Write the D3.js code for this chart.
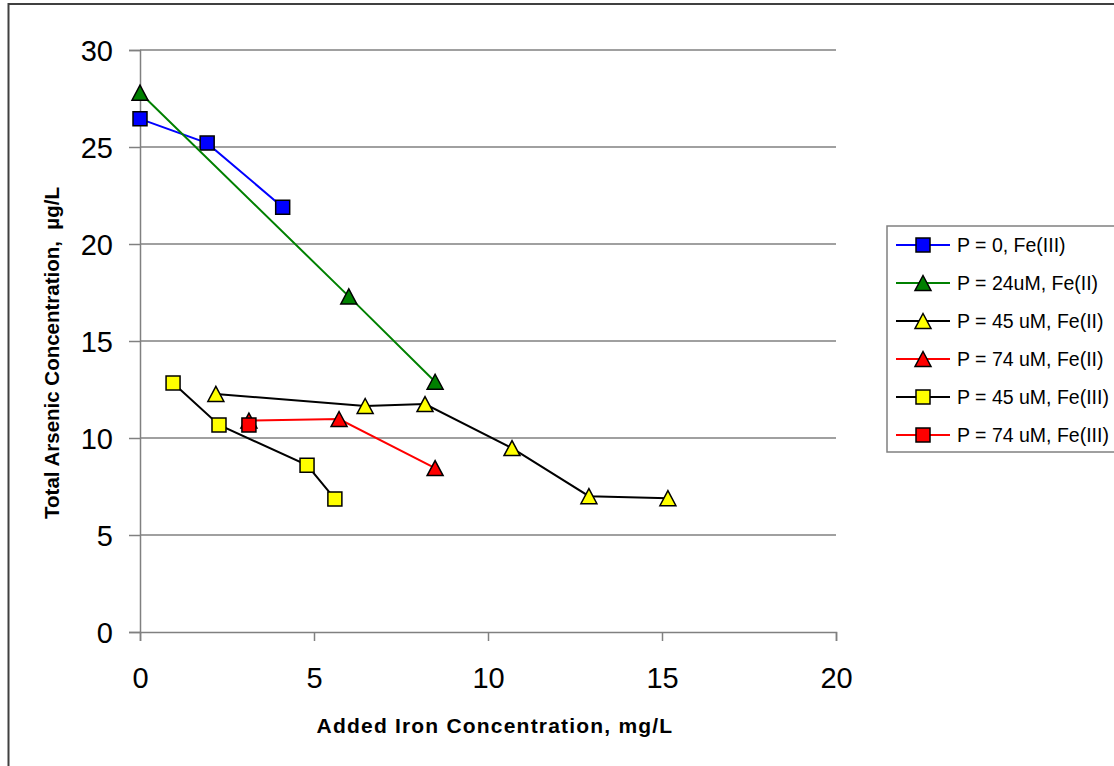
<!DOCTYPE html>
<html>
<head>
<meta charset="utf-8">
<script src="https://cdn.jsdelivr.net/npm/d3@7"></script>
<style>
  html, body { margin: 0; padding: 0; background: #fff; }
  svg { display: block; }
  text { font-family: Arial, "Liberation Sans", sans-serif; fill: #000; }
</style>
</head>
<body>
<svg id="chart" width="1114" height="766"></svg>
<script>
// ---------- data ----------
const seriesNames = [
  "P = 0, Fe(III)",
  "P = 24uM, Fe(II)",
  "P = 45 uM, Fe(II)",
  "P = 74 uM, Fe(II)",
  "P = 45 uM, Fe(III)",
  "P = 74 uM, Fe(III)"
];
const p0FeIII_x  = [0, 1.93, 4.1];
const p0FeIII_y  = [26.45, 25.2, 21.9];
const p24FeII_x  = [0, 6.0, 8.48];
const p24FeII_y  = [27.8, 17.3, 12.9];
const p45FeII_x  = [2.18, 6.47, 8.19, 10.69, 12.9, 15.17];
const p45FeII_y  = [12.27, 11.65, 11.75, 9.48, 7.0, 6.9];
const p74FeII_x  = [3.13, 5.72, 8.48];
const p74FeII_y  = [10.9, 10.98, 8.45];
const p45FeIII_x = [0.95, 2.27, 4.8, 5.6];
const p45FeIII_y = [12.84, 10.67, 8.6, 6.86];
const p74FeIII_x = [3.13];
const p74FeIII_y = [10.67];

const xTicks = [0, 5, 10, 15, 20];
const yTicks = [0, 5, 10, 15, 20, 25, 30];

const lineColors   = ["#0000ff", "#008000", "#000000", "#ff0000", "#000000", "#ff0000"];
const markerFills  = ["#0000ff", "#008000", "#ffff00", "#ff0000", "#ffff00", "#ff0000"];
const markerShapes = ["square", "triangle", "triangle", "triangle", "square", "square"];

const seriesX = [p0FeIII_x, p24FeII_x, p45FeII_x, p74FeII_x, p45FeIII_x, p74FeIII_x];
const seriesY = [p0FeIII_y, p24FeII_y, p45FeII_y, p74FeII_y, p45FeIII_y, p74FeIII_y];

const series = seriesNames.map((name, i) => ({
  name,
  color: lineColors[i],
  fill: markerFills[i],
  shape: markerShapes[i],
  points: seriesX[i].map((x, j) => ({ x, y: seriesY[i][j] }))
}));

// ---------- layout ----------
const svg = d3.select("#chart");
const plot = { left: 140, right: 836, top: 50, bottom: 632 };

const x = d3.scaleLinear().domain([0, 20]).range([plot.left, plot.right]);
const y = d3.scaleLinear().domain([0, 30]).range([plot.bottom, plot.top]);

// outer frame
svg.append("rect")
  .attr("x", 8.5).attr("y", 4)
  .attr("width", 1120).attr("height", 780)
  .attr("fill", "none").attr("stroke", "#404040").attr("stroke-width", 2);

// gridlines
svg.append("g")
  .selectAll("line")
  .data(yTicks.filter(d => d !== 0))
  .join("line")
  .attr("x1", plot.left).attr("x2", plot.right)
  .attr("y1", d => y(d)).attr("y2", d => y(d))
  .attr("stroke", "#808080").attr("stroke-width", 1.5);

// y axis
const yAxis = svg.append("g")
  .attr("transform", `translate(${plot.left},0)`)
  .call(d3.axisLeft(y).tickValues(yTicks).tickSize(11).tickPadding(16).tickFormat(d3.format("d")));
yAxis.select(".domain").attr("stroke", "#808080").attr("stroke-width", 1.5);
yAxis.selectAll(".tick line").attr("stroke", "#808080").attr("stroke-width", 1.5);
yAxis.selectAll(".tick text")
  .style("font-family", "Arial, 'Liberation Sans', sans-serif")
  .style("font-size", "29px").attr("fill", "#000").attr("dy", "0.35em");

// x axis
const xAxis = svg.append("g")
  .attr("transform", `translate(0,${plot.bottom})`)
  .call(d3.axisBottom(x).tickValues(xTicks).tickSize(9).tickPadding(26).tickFormat(d3.format("d")));
xAxis.select(".domain").attr("stroke", "#808080").attr("stroke-width", 1.5);
xAxis.selectAll(".tick line").attr("stroke", "#808080").attr("stroke-width", 1.5);
xAxis.selectAll(".tick text")
  .style("font-family", "Arial, 'Liberation Sans', sans-serif")
  .style("font-size", "29px").attr("fill", "#000");

// axis titles
svg.append("text")
  .attr("x", 495).attr("y", 733)
  .attr("text-anchor", "middle")
  .style("font-size", "21px").style("font-weight", "bold")
  .style("letter-spacing", "1.2px")
  .text("Added Iron Concentration, mg/L");

svg.append("text")
  .attr("transform", "translate(59,353) rotate(-90)")
  .attr("text-anchor", "middle")
  .style("font-size", "20.5px").style("font-weight", "bold")
  .style("white-space", "pre")
  .attr("xml:space", "preserve")
  .text("Total Arsenic Concentration,  \u00b5g/L");

// markers
function markerPath(shape) {
  if (shape === "square") {
    const s = 7;
    return `M${-s},${-s}H${s}V${s}H${-s}Z`;
  }
  const w = 8, h = 7.5;
  return `M0,${-h}L${w},${h}L${-w},${h}Z`;
}

const line = d3.line().x(d => x(d.x)).y(d => y(d.y));

series.forEach(s => {
  const g = svg.append("g");
  g.append("path")
    .datum(s.points)
    .attr("d", line)
    .attr("fill", "none")
    .attr("stroke", s.color)
    .attr("stroke-width", 2);
  g.selectAll("path.m")
    .data(s.points)
    .join("path")
    .attr("class", "m")
    .attr("transform", d => `translate(${x(d.x)},${y(d.y)})`)
    .attr("d", markerPath(s.shape))
    .attr("fill", s.fill)
    .attr("stroke", "#000")
    .attr("stroke-width", 1.5);
});

// legend
const legend = svg.append("g");
legend.append("rect")
  .attr("x", 887).attr("y", 226)
  .attr("width", 240).attr("height", 226)
  .attr("fill", "#fff").attr("stroke", "#808080").attr("stroke-width", 1.5);

const rowY = d3.scaleLinear().domain([0, 5]).range([245, 435]);
const items = legend.selectAll("g.item")
  .data(series)
  .join("g")
  .attr("class", "item")
  .attr("transform", (d, i) => `translate(0,${rowY(i)})`);
items.append("line")
  .attr("x1", 896).attr("x2", 950)
  .attr("stroke", d => d.color).attr("stroke-width", 2);
items.append("path")
  .attr("transform", "translate(923,0)")
  .attr("d", d => markerPath(d.shape))
  .attr("fill", d => d.fill)
  .attr("stroke", "#000").attr("stroke-width", 1.5);
items.append("text")
  .attr("x", 957).attr("y", 0).attr("dy", "0.35em")
  .style("font-size", "19.5px")
  .text(d => d.name);
</script>
</body>
</html>
